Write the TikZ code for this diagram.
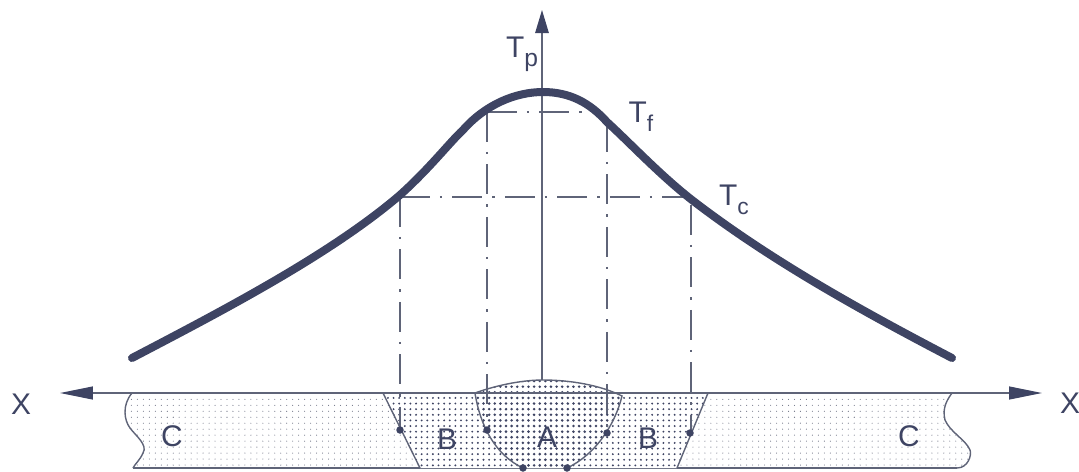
\documentclass[tikz,border=0pt]{standalone}
\usepackage{fontspec}
\setmainfont{Liberation Sans}
\usetikzlibrary{arrows.meta,patterns.meta}
\definecolor{inkblue}{HTML}{3E4463}
\definecolor{inkgray}{HTML}{5F6478}
\tikzset{
    xarrow/.style={-{Stealth[length=0.66cm, width=0.26cm, inset=0pt, color=inkblue]}, draw=inkgray, line width=0.7pt},
    yarrow/.style={-{Stealth[length=0.46cm, width=0.27cm, inset=0pt, color=inkblue]}, draw=inkgray, line width=0.7pt},
    dashdot/.style={draw=inkgray, line width=0.7pt, dash pattern=on 0.6cm off 0.2cm on 0.05cm off 0.2cm},
    zoneline/.style={draw=inkgray, line width=0.8pt},
    zonedot/.style={circle, fill=inkblue, inner sep=0pt, minimum size=0.15cm},
    lbl/.style={text=inkblue, font=\fontsize{17}{17}\selectfont, inner sep=0pt},
    lightdots/.style={pattern={Dots[radius=0.3pt, distance=3.4pt]}, pattern color=inkgray},
    middots/.style={pattern={Dots[radius=0.6pt, distance=3.2pt]}, pattern color=inkblue},
    densedots/.style={pattern={Dots[radius=0.8pt, distance=3.2pt]}, pattern color=inkblue},
}
\begin{document}
\begin{tikzpicture}[x=0.02cm, y=-0.02cm]
    \useasboundingbox (0,0) rectangle (1079,471);

    % plate, outer zone C with broken ends
    \path[lightdots] (132,393) .. controls (122,405) and (124,420) .. (130,428)
        .. controls (136,436) and (148,445) .. (143,453) .. controls (140,460) and (135,464) .. (133,468)
        -- (957,468) .. controls (968,468) and (972,455) .. (970,450)
        .. controls (966,440) and (950,432) .. (945,420) .. controls (942,408) and (947,400) .. (952,393) -- cycle;
    \draw[zoneline] (132,393) .. controls (122,405) and (124,420) .. (130,428)
        .. controls (136,436) and (148,445) .. (143,453) .. controls (140,460) and (135,464) .. (133,468);
    \draw[zoneline] (957,468) .. controls (968,468) and (972,455) .. (970,450)
        .. controls (966,440) and (950,432) .. (945,420) .. controls (942,408) and (947,400) .. (952,393);
    \draw[zoneline] (133,468) -- (957,468);

    % zone B
    \path[fill=white] (383,393) -- (420,468) -- (677,468) -- (708,393) -- cycle;
    \path[middots] (383,393) -- (420,468) -- (677,468) -- (708,393) -- cycle;
    \draw[zoneline] (383,393) -- (420,468);
    \draw[zoneline] (708,393) -- (677,468);

    % zone A with the cap
    \path[fill=white] (475,393) .. controls (500,384) and (525,380) .. (543,380)
        .. controls (570,380) and (600,385) .. (622,396)
        .. controls (615,425) and (595,455) .. (567,468) -- (523,468)
        .. controls (495,455) and (480,425) .. (475,393) -- cycle;
    \path[densedots] (475,393) .. controls (500,384) and (525,380) .. (543,380)
        .. controls (570,380) and (600,385) .. (622,396)
        .. controls (615,425) and (595,455) .. (567,468) -- (523,468)
        .. controls (495,455) and (480,425) .. (475,393) -- cycle;
    \draw[zoneline] (475,393) .. controls (500,384) and (525,380) .. (543,380)
        .. controls (570,380) and (600,385) .. (622,396)
        .. controls (615,425) and (595,455) .. (567,468)
        (523,468) .. controls (495,455) and (480,425) .. (475,393);

    % dash-dot projection lines
    \draw[dashdot] (487,112) -- (600,112);
    \draw[dashdot] (400,197) -- (688,197);
    \foreach \x/\ytop/\yfoot in {487/112/430, 607/122/433, 400/197/430, 691/205/433} {
        \draw[dashdot] (\x,\ytop) -- (\x,\yfoot);
    }

    % axes
    \coordinate (yTop) at (542,10);
    \coordinate (yFoot) at (542,380);
    \coordinate (xLeft) at (60,393);
    \coordinate (xRight) at (1042,393);
    \coordinate (xMid) at (542,393);
    \draw[yarrow] (yFoot) -- (yTop);
    \draw[xarrow] (xMid) -- (xLeft);
    \draw[xarrow] (xMid) -- (xRight);

    % temperature curve
    \draw[inkblue, line width=0.16cm, line cap=round] (132,358)
        .. controls (220,312) and (330,255) .. (400,195)
        .. controls (430,168) and (450,142) .. (463,130)
        .. controls (485,105) and (515,92) .. (543,92)
        .. controls (570,92) and (590,103) .. (607,122)
        .. controls (630,143) and (660,175) .. (692,200)
        .. controls (770,260) and (860,310) .. (952,358);

    % section points
    \foreach \x/\y in {400/430, 487/430, 607/433, 690/433, 523/468, 567/468} {
        \node[zonedot] at (\x,\y) {};
    }

    % labels
    \node[lbl] (tp) at (522,54) {T\raisebox{-0.3em}{\fontsize{14}{14}\selectfont p}};
    \node[lbl] (tf) at (641,117) {T\raisebox{-0.3em}{\fontsize{13}{13}\selectfont f}};
    \node[lbl] (tc) at (734,200) {T\raisebox{-0.3em}{\fontsize{13}{13}\selectfont c}};
    \node[lbl] (xl) at (21,404) {X};
    \node[lbl] (xr) at (1070,403) {X};
    \node[lbl] (cl) at (172,436) {C};
    \node[lbl] (bl) at (447,439) {B};
    \node[lbl] (a) at (547,437) {A};
    \node[lbl] (br) at (648,438) {B};
    \node[lbl] (cr) at (909,436) {C};
\end{tikzpicture}
\end{document}
